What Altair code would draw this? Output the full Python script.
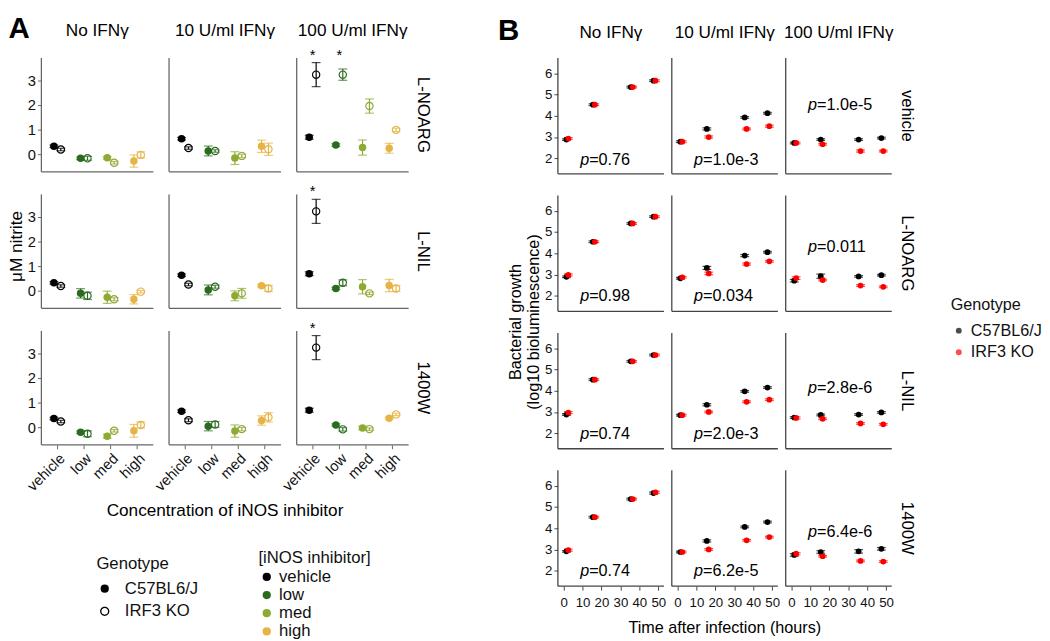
import altair as alt
import pandas as pd

FONT = "Liberation Sans"

# ---------------- Panel A data ----------------
A_IFN = ["No IFNγ", "10 U/ml IFNγ", "100 U/ml IFNγ"]
A_INH = ["L-NOARG", "L-NIL", "1400W"]
DOSES = ["vehicle", "low", "med", "high"]
DOSE_COLORS = ["#000000", "#2b6b1f", "#8eaa32", "#e6b445"]
GENOS = ["C57BL6/J", "IRF3 KO"]

# nitrite (µM) [inhibitor][ifn][dose]
nitrite_c57 = [
    [[0.32, -0.17, -0.15, -0.28], [0.63, 0.13, -0.16, 0.32], [0.69, 0.37, 0.27, 0.24]],
    [[0.32, -0.11, -0.27, -0.35], [0.63, 0.03, -0.21, 0.20], [0.69, 0.09, 0.16, 0.21]],
    [[0.35, -0.21, -0.37, -0.15], [0.65, 0.04, -0.16, 0.27], [0.69, 0.09, -0.03, 0.36]],
]
nitrite_c57_err = [
    [[0.05, 0.05, 0.05, 0.25], [0.05, 0.20, 0.26, 0.25], [0.08, 0.05, 0.31, 0.20]],
    [[0.05, 0.19, 0.25, 0.19], [0.05, 0.20, 0.20, 0.05], [0.08, 0.05, 0.29, 0.25]],
    [[0.05, 0.05, 0.08, 0.26], [0.05, 0.19, 0.25, 0.19], [0.08, 0.04, 0.07, 0.04]],
]
nitrite_irf3 = [
    [[0.19, -0.17, -0.35, -0.03], [0.25, 0.13, -0.07, 0.20], [3.24, 3.24, 1.96, 0.99]],
    [[0.19, -0.21, -0.35, -0.04], [0.25, 0.16, -0.11, 0.09], [3.23, 0.32, -0.11, 0.09]],
    [[0.23, -0.27, -0.15, 0.09], [0.28, 0.11, -0.08, 0.40], [3.24, -0.09, -0.08, 0.52]],
]
nitrite_irf3_err = [
    [[0.05, 0.08, 0.05, 0.12], [0.05, 0.05, 0.07, 0.25], [0.49, 0.23, 0.29, 0.07]],
    [[0.05, 0.15, 0.06, 0.05], [0.05, 0.06, 0.20, 0.12], [0.49, 0.12, 0.05, 0.12]],
    [[0.05, 0.12, 0.05, 0.12], [0.06, 0.12, 0.07, 0.19], [0.49, 0.07, 0.05, 0.05]],
]
star_inh = ["L-NOARG", "L-NOARG", "L-NIL", "1400W"]
star_ifn = ["100 U/ml IFNγ", "100 U/ml IFNγ", "100 U/ml IFNγ", "100 U/ml IFNγ"]
star_dose = ["vehicle", "low", "vehicle", "vehicle"]
STAR_Y = 4.05

# ---------------- Panel B data ----------------
B_IFN = ["No IFNγ", "10 U/ml IFNγ", "100 U/ml IFNγ"]
B_INH = ["vehicle", "L-NOARG", "L-NIL", "1400W"]
B_TIMES = [2, 16, 36, 48]
B_DODGE = [-0.5, 0.5]
GENO_COLORS = ["#000000", "#ff0000"]

growth_c57 = [
    [[2.88, 4.52, 5.35, 5.65], [2.78, 3.38, 3.92, 4.12], [2.72, 2.88, 2.88, 2.95]],
    [[2.89, 4.54, 5.40, 5.72], [2.82, 3.31, 3.89, 4.05], [2.71, 2.92, 2.91, 2.97]],
    [[2.88, 4.52, 5.38, 5.68], [2.85, 3.34, 3.97, 4.15], [2.74, 2.86, 2.88, 2.98]],
    [[2.91, 4.52, 5.37, 5.65], [2.88, 3.40, 4.06, 4.29], [2.74, 2.88, 2.91, 3.03]],
]
growth_c57_err = [
    [[0.04, 0.04, 0.04, 0.04], [0.04, 0.05, 0.04, 0.04], [0.04, 0.04, 0.04, 0.04]],
    [[0.04, 0.04, 0.04, 0.04], [0.04, 0.07, 0.05, 0.04], [0.06, 0.10, 0.04, 0.04]],
    [[0.04, 0.04, 0.04, 0.04], [0.04, 0.05, 0.04, 0.04], [0.04, 0.04, 0.04, 0.04]],
    [[0.04, 0.04, 0.04, 0.05], [0.04, 0.05, 0.04, 0.04], [0.06, 0.06, 0.08, 0.06]],
]
growth_irf3 = [
    [[2.93, 4.52, 5.35, 5.65], [2.78, 3.00, 3.38, 3.51], [2.72, 2.66, 2.34, 2.34]],
    [[2.98, 4.54, 5.40, 5.72], [2.87, 3.05, 3.49, 3.62], [2.83, 2.74, 2.48, 2.42]],
    [[2.97, 4.52, 5.38, 5.68], [2.85, 3.00, 3.48, 3.58], [2.72, 2.68, 2.46, 2.42]],
    [[2.97, 4.52, 5.37, 5.69], [2.88, 3.00, 3.43, 3.58], [2.80, 2.68, 2.46, 2.43]],
]
growth_irf3_err = [
    [[0.04, 0.04, 0.04, 0.04], [0.04, 0.05, 0.04, 0.05], [0.04, 0.04, 0.05, 0.04]],
    [[0.05, 0.04, 0.04, 0.04], [0.04, 0.06, 0.05, 0.04], [0.06, 0.04, 0.04, 0.04]],
    [[0.05, 0.04, 0.04, 0.04], [0.04, 0.04, 0.04, 0.04], [0.05, 0.04, 0.04, 0.04]],
    [[0.05, 0.04, 0.04, 0.05], [0.04, 0.04, 0.04, 0.04], [0.05, 0.04, 0.04, 0.04]],
]
p_values = [
    ["0.76", "1.0e-3", "1.0e-5"],
    ["0.98", "0.034", "0.011"],
    ["0.74", "2.0e-3", "2.8e-6"],
    ["0.74", "6.2e-5", "6.4e-6"],
]
p_y = [
    [1.92, 1.92, 4.49],
    [1.97, 1.97, 4.31],
    [1.97, 1.97, 4.11],
    [1.97, 1.97, 3.80],
]
P_X = 13.5

# ---------------- build tables ----------------
dose_col = dict(zip(DOSES, DOSE_COLORS))
geno_col = dict(zip(GENOS, GENO_COLORS))

rowsA = []
for i, inh in enumerate(A_INH):
    for j, ifn in enumerate(A_IFN):
        rowsA.append(dict(kind="axis", inh=inh, ifn=ifn))
        for g, (vals, errs) in enumerate([(nitrite_c57, nitrite_c57_err), (nitrite_irf3, nitrite_irf3_err)]):
            for k, d in enumerate(DOSES):
                v = vals[i][j][k]
                e = errs[i][j][k]
                rowsA.append(dict(kind="pt", inh=inh, ifn=ifn, dose=d, dcol=dose_col[d], geno=GENOS[g],
                                  val=v, lo=v - e, hi=v + e))
for inh, ifn, d in zip(star_inh, star_ifn, star_dose):
    rowsA.append(dict(kind="star", inh=inh, ifn=ifn, dose=d, sy=STAR_Y))
dfA = pd.DataFrame(rowsA)

rowsB = []
for i, inh in enumerate(B_INH):
    for j, ifn in enumerate(B_IFN):
        rowsB.append(dict(kind="axis", inh=inh, ifn=ifn))
        rowsB.append(dict(kind="p", inh=inh, ifn=ifn, tx=P_X, py=p_y[i][j],
                          plabel="=" + p_values[i][j]))
        for g, (vals, errs) in enumerate([(growth_c57, growth_c57_err), (growth_irf3, growth_irf3_err)]):
            for k, t in enumerate(B_TIMES):
                v = vals[i][j][k]
                e = errs[i][j][k]
                rowsB.append(dict(kind="pt", inh=inh, ifn=ifn, geno=GENOS[g], gcol=geno_col[GENOS[g]],
                                  tx=t + B_DODGE[g], val=v, lo=v - e, hi=v + e))
dfB = pd.DataFrame(rowsB)

# ---------------- Panel A chart ----------------
WA, HA = 114, 116
AXA = "#666666"
RING = ("M -1.128 0 A 1.128 1.128 0 1 0 1.128 0 A 1.128 1.128 0 1 0 -1.128 0 Z "
        "M -0.82 0 A 0.82 0.82 0 1 1 0.82 0 A 0.82 0.82 0 1 1 -0.82 0 Z")
dose_scale = alt.Scale(domain=DOSES, range=DOSE_COLORS)
xA = alt.X("dose:N", sort=DOSES,
           scale=alt.Scale(domain=DOSES, paddingInner=0.48, paddingOuter=0.34),
           axis=alt.Axis(title=None, labelAngle=-45, labelAlign="right",
                         labelBaseline="top", labelFontSize=15, domain=False,
                         tickColor=AXA, tickSize=4, labelColor="#111"))
xoA = alt.XOffset("geno:N", sort=GENOS, scale=alt.Scale(domain=GENOS))


def yA(field):
    return alt.Y(f"{field}:Q", scale=alt.Scale(domain=[-0.72, 3.92], nice=False, zero=False),
                 axis=alt.Axis(title=None, values=[0, 1, 2, 3], domain=False, tickColor=AXA,
                               tickSize=4, labelFontSize=15, labelColor="#111"))


colA = alt.Color("dcol:N", scale=None)
ptA = "datum.kind == 'pt'"
errA = alt.Chart().transform_filter(ptA).mark_rule(strokeWidth=1.2).encode(
    x=xA, xOffset=xoA, y=yA("lo"), y2="hi:Q", color=colA)
capLoA = alt.Chart().transform_filter(ptA).mark_tick(size=9, thickness=1.2).encode(
    x=xA, xOffset=xoA, y=yA("lo"), color=colA)
capHiA = alt.Chart().transform_filter(ptA).mark_tick(size=9, thickness=1.2).encode(
    x=xA, xOffset=xoA, y=yA("hi"), color=colA)
ptsA = alt.Chart().transform_filter(ptA).mark_point(filled=True, size=58, strokeWidth=0, opacity=1).encode(
    x=xA, xOffset=xoA, y=yA("val"),
    fill=alt.Fill("dose:N", scale=dose_scale,
                  legend=alt.Legend(title="[iNOS inhibitor]", orient="none", legendX=221, legendY=501,
                                    symbolType="circle", symbolSize=70, rowPadding=0.5, titlePadding=2,
                                    symbolOpacity=1,
                                    labelFontSize=17, titleFontSize=17, titleFontWeight="normal")),
    shape=alt.Shape("geno:N", scale=alt.Scale(domain=GENOS, range=["circle", RING]),
                    legend=alt.Legend(title="Genotype", orient="none", legendX=56, legendY=507,
                                      symbolSize=70, symbolFillColor="black", symbolStrokeWidth=0,
                                      symbolOpacity=1,
                                      rowPadding=5, titlePadding=8, labelOffset=12,
                                      labelFontSize=17, titleFontSize=17, titleFontWeight="normal")),
)
starA = alt.Chart().transform_filter("datum.kind == 'star'").mark_text(
    text="*", fontSize=15, baseline="middle", color="black").encode(x=xA, y=yA("sy"))
axA = "datum.kind == 'axis'"
axAx = alt.Chart().transform_filter(axA).mark_rule(color=AXA, strokeWidth=1.3).encode(
    x=alt.value(0), x2=alt.value(WA), y=alt.value(HA))
axAy = alt.Chart().transform_filter(axA).mark_rule(color=AXA, strokeWidth=1.3).encode(
    x=alt.value(0), y=alt.value(0), y2=alt.value(HA))

chartA = alt.layer(errA, capLoA, capHiA, ptsA, starA, axAx, axAy, data=dfA).properties(
    width=WA, height=HA
).facet(
    row=alt.Row("inh:N", sort=A_INH, header=alt.Header(
        title="μM nitrite", titleOrient="left", titleFontSize=17.5, titleFontWeight="normal",
        titleFont=FONT, titlePadding=-9,
        labelOrient="right", labelAngle=90, labelFontSize=17, labelFont=FONT, labelPadding=6)),
    column=alt.Column("ifn:N", sort=A_IFN, header=alt.Header(
        title="Concentration of iNOS inhibitor", titleOrient="bottom", titleFontSize=17.5,
        titleFontWeight="normal", titleFont=FONT, titlePadding=-2,
        labelOrient="top", labelFontSize=17.5, labelFont=FONT, labelPadding=19)),
    spacing={"row": 23, "column": 16},
    bounds="flush",
).properties(title=alt.TitleParams("A", anchor="start", fontSize=30, fontWeight="bold", font=FONT,
                                   offset=-22))

# ---------------- Panel B chart ----------------
WB, HB = 108, 118
AXB = "#444444"
geno_scale = alt.Scale(domain=GENOS, range=GENO_COLORS)
xB = alt.X("tx:Q", scale=alt.Scale(domain=[-3, 53], nice=False, zero=False),
           axis=alt.Axis(title=None, values=[0, 10, 20, 30, 40, 50], domain=False,
                         tickColor=AXB, tickSize=4, labelFontSize=13.5, labelPadding=6,
                         labelColor="#111", labelFlush=False))


def yB(field):
    return alt.Y(f"{field}:Q", scale=alt.Scale(domain=[1.27, 6.72], nice=False, zero=False),
                 axis=alt.Axis(title=None, values=[2, 3, 4, 5, 6], domain=False, tickColor=AXB, tickSize=4,
                               labelFontSize=13.5, labelColor="#111"))


colB = alt.Color("geno:N", scale=geno_scale,
                 legend=alt.Legend(title="Genotype", orient="none", legendX=400, legendY=244,
                                   symbolType="circle", symbolSize=36, symbolOpacity=1,
                                   labelFontSize=16.5, titleFontSize=16.5, titleFontWeight="normal",
                                   rowPadding=5, titlePadding=9))
colBn = alt.Color("gcol:N", scale=None)
ptB = "datum.kind == 'pt'"
errB = alt.Chart().transform_filter(ptB).mark_rule(strokeWidth=1.2).encode(
    x=xB, y=yB("lo"), y2="hi:Q", color=colBn)
capLoB = alt.Chart().transform_filter(ptB).mark_tick(size=9, thickness=1.2, orient="horizontal").encode(
    x=xB, y=yB("lo"), color=colBn)
capHiB = alt.Chart().transform_filter(ptB).mark_tick(size=9, thickness=1.2, orient="horizontal").encode(
    x=xB, y=yB("hi"), color=colBn)
ptsB = alt.Chart().transform_filter(ptB).mark_point(filled=True, size=34, opacity=1).encode(
    x=xB, y=yB("val"), color=colB)
pP = "datum.kind == 'p'"
pTxt1 = alt.Chart().transform_filter(pP).mark_text(
    text="p", fontStyle="italic", align="right", baseline="middle", fontSize=16.5, color="black").encode(
    x=xB, y=yB("py"))
pTxt2 = alt.Chart().transform_filter(pP).mark_text(
    align="left", baseline="middle", fontSize=16.5, color="black").encode(
    x=xB, y=yB("py"), text="plabel:N")
axB = "datum.kind == 'axis'"
axBx = alt.Chart().transform_filter(axB).mark_rule(color=AXB, strokeWidth=1.3).encode(
    x=alt.value(0), x2=alt.value(WB), y=alt.value(HB))
axBy = alt.Chart().transform_filter(axB).mark_rule(color=AXB, strokeWidth=1.3).encode(
    x=alt.value(0), y=alt.value(0), y2=alt.value(HB))

chartB = alt.layer(errB, capLoB, capHiB, ptsB, pTxt1, pTxt2, axBx, axBy, data=dfB).properties(
    width=WB, height=HB
).facet(
    row=alt.Row("inh:N", sort=B_INH, header=alt.Header(
        title=["Bacterial growth", "(log10 bioluminescence)"], titleOrient="left", titleFontSize=16.5,
        titleFontWeight="normal", titleFont=FONT, titlePadding=-8,
        labelOrient="right", labelAngle=90, labelFontSize=17, labelFont=FONT, labelPadding=6)),
    column=alt.Column("ifn:N", sort=B_IFN, header=alt.Header(
        title="Time after infection (hours)", titleOrient="bottom", titleFontSize=16.5,
        titleFontWeight="normal", titleFont=FONT, titlePadding=1,
        labelOrient="top", labelFontSize=17.5, labelFont=FONT, labelPadding=17)),
    spacing={"row": 22, "column": 8},
    bounds="flush",
).properties(title=alt.TitleParams("B", anchor="start", fontSize=30, fontWeight="bold", font=FONT,
                                   offset=-22, dx=-10))

chart = alt.hconcat(chartA, chartB, spacing=66).resolve_scale(
    color="independent", fill="independent", stroke="independent", shape="independent"
).resolve_legend(
    color="independent", fill="independent", shape="independent"
).properties(
    padding={"left": 0, "top": 0, "right": 0, "bottom": 0}
).configure(font=FONT).configure_view(stroke=None).configure_axis(grid=False).configure_legend(
    labelFont=FONT, titleFont=FONT, labelColor="#111", titleColor="#111"
)

chart.save("out.html", embed_options={"renderer": "svg", "actions": False})
